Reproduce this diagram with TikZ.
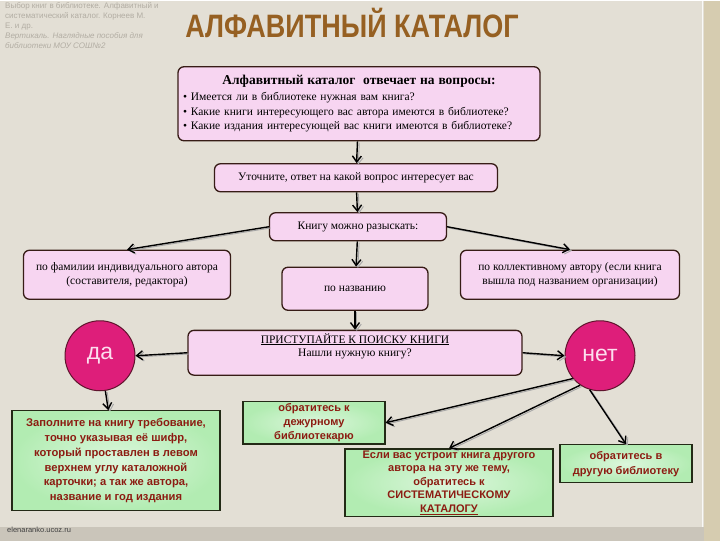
\documentclass[tikz,border=0pt]{standalone}
\usepackage{fontspec}
\setmainfont{Liberation Serif}
\newfontfamily\sansfont{Liberation Sans}
\usetikzlibrary{arrows.meta}

\definecolor{bgpage}{RGB}{227,223,213}
\definecolor{stripcol}{RGB}{214,204,176}
\definecolor{footcol}{RGB}{202,197,186}
\definecolor{pinkfill}{RGB}{247,213,241}
\definecolor{boxline}{RGB}{55,28,22}
\definecolor{greenfill}{RGB}{178,236,178}
\definecolor{greenline}{RGB}{35,42,22}
\definecolor{redtext}{RGB}{140,28,18}
\definecolor{circfill}{RGB}{222,30,122}
\definecolor{circline}{RGB}{95,20,45}
\definecolor{circtext}{RGB}{252,222,238}
\definecolor{titlecol}{RGB}{150,96,34}
\definecolor{faintcol}{RGB}{178,173,163}

\begin{document}
\begin{tikzpicture}[x=1pt,y=-1pt,
	pinkbox/.style={draw=boxline,line width=1.3pt,fill=pinkfill,rounded corners=6pt,
		font=\fontsize{11.5}{13.5}\selectfont,align=center,inner sep=3pt},
	greenbox/.style={draw=greenline,line width=1.2pt,inner color=white!55!greenfill,
		outer color=greenfill,text=redtext,align=center,inner sep=2pt},
	answer/.style={circle,draw=circline,line width=1pt,fill=circfill,minimum size=70pt,
		text=circtext,font=\sansfont\fontsize{23}{25}\selectfont},
	flow/.style={-{Straight Barb[length=6pt,width=9pt]},line width=1.4pt,black},
	flowshade/.style={-{Straight Barb[length=6pt,width=9pt]},line width=0.9pt,gray!70,
		transform canvas={shift={(1.8pt,-1.2pt)}}}
	]
	% background of the slide
	\fill[bgpage] (0,0) rectangle (720,540);
	\fill[stripcol] (704,0) rectangle (720,540);
	\fill[footcol] (0,526) rectangle (704,540);
	\draw[white!80!bgpage,line width=1.5pt] (702.5,0) -- (702.5,526);

	% heading
	\node[anchor=north west,align=left,text=faintcol,inner sep=0pt,
		font=\sansfont\fontsize{8}{10}\selectfont] (source) at (5,2)
		{Выбор книг в библиотеке. Алфавитный и\\
		 систематический каталог. Корнеев М.\\
		 Е. и др.\\
		 \itshape Вертикаль. Наглядные пособия для\\
		 \itshape библиотеки МОУ СОШ№2};
	\node[text=titlecol,font=\sansfont\bfseries\fontsize{27}{30}\selectfont] (title) at (352,22)
		{\scalebox{1}[1.2]{АЛФАВИТНЫЙ КАТАЛОГ}};

	% pink boxes
	\node[pinkbox,minimum width=362pt,minimum height=74pt,text width=352pt,align=left,
		font=\fontsize{11.5}{14.5}\selectfont] (answers) at (359,103)
		{\makebox[352pt]{\bfseries\fontsize{13.5}{15}\selectfont Алфавитный каталог~~отвечает на вопросы:}\\[2pt]
		 \textbullet\ Имеется ли в библиотеке нужная вам книга?\\
		 \textbullet\ Какие книги интересующего вас автора имеются в библиотеке?\\
		 \textbullet\ Какие издания интересующей вас книги имеются в библиотеке?};
	\node[pinkbox,minimum width=283pt,minimum height=28pt] (clarify) at (356,177)
		{Уточните, ответ на какой вопрос интересует вас};
	\node[pinkbox,minimum width=177pt,minimum height=28pt] (howto) at (358,226)
		{Книгу можно разыскать:};
	\node[pinkbox,minimum width=207pt,minimum height=49pt] (byauthor) at (127,274)
		{по фамилии индивидуального автора\\(составителя, редактора)};
	\node[pinkbox,minimum width=146pt,minimum height=43pt] (bytitle) at (355,288)
		{по названию};
	\node[pinkbox,minimum width=219pt,minimum height=49pt] (bycoll) at (570,274)
		{по коллективному автору (если книга\\вышла под названием организации)};
	\node[pinkbox,minimum width=334pt,minimum height=42pt] (start) at (355,352)
		{\underline{ПРИСТУПАЙТЕ К ПОИСКУ КНИГИ}\\Нашли нужную книгу?\\[-2pt]\strut};

	% yes / no
	\node[answer] (yes) at (100,355) {да};
	\node[answer] (no) at (600,355) {нет};

	% green boxes
	\node[greenbox,minimum width=208pt,minimum height=100pt,
		font=\sansfont\bfseries\fontsize{11.2}{14.8}\selectfont] (request) at (116,460)
		{Заполните на книгу требование,\\
		 точно указывая её шифр,\\
		 который проставлен в левом\\
		 верхнем углу каталожной\\
		 карточки; а так же автора,\\
		 название и год издания};
	\node[greenbox,minimum width=142pt,minimum height=42pt,
		font=\sansfont\bfseries\fontsize{11}{14}\selectfont] (duty) at (314,422)
		{обратитесь к\\дежурному\\библиотекарю};
	\node[greenbox,minimum width=208pt,minimum height=65pt,
		font=\sansfont\bfseries\fontsize{11}{13.5}\selectfont] (syscat) at (449,482)
		{Если вас устроит книга другого\\
		 автора на эту же тему,\\
		 обратитесь к\\
		 СИСТЕМАТИЧЕСКОМУ\\
		 \underline{КАТАЛОГУ}};
	\node[greenbox,minimum width=132pt,minimum height=38pt,
		font=\sansfont\bfseries\fontsize{11}{15}\selectfont] (other) at (626,463)
		{обратитесь в\\другую библиотеку};

	\node[anchor=west,inner sep=0pt,text=black!75,font=\sansfont\fontsize{7.5}{8}\selectfont] (site) at (7,529)
		{elenaranko.ucoz.ru};

	% connectors, each with its grey shadow
	\foreach \a/\b in {answers/clarify, clarify/howto, howto.west/byauthor.north,
		howto.east/bycoll.north, howto/bytitle, bytitle/start, start.west/yes.east,
		start.east/no.west, yes/request, no.220/duty.east, no.236/syscat.north,
		no.253/other.north}{
		\draw[flowshade] (\a) -- (\b);
		\draw[flow] (\a) -- (\b);
	}

\end{tikzpicture}
\end{document}
